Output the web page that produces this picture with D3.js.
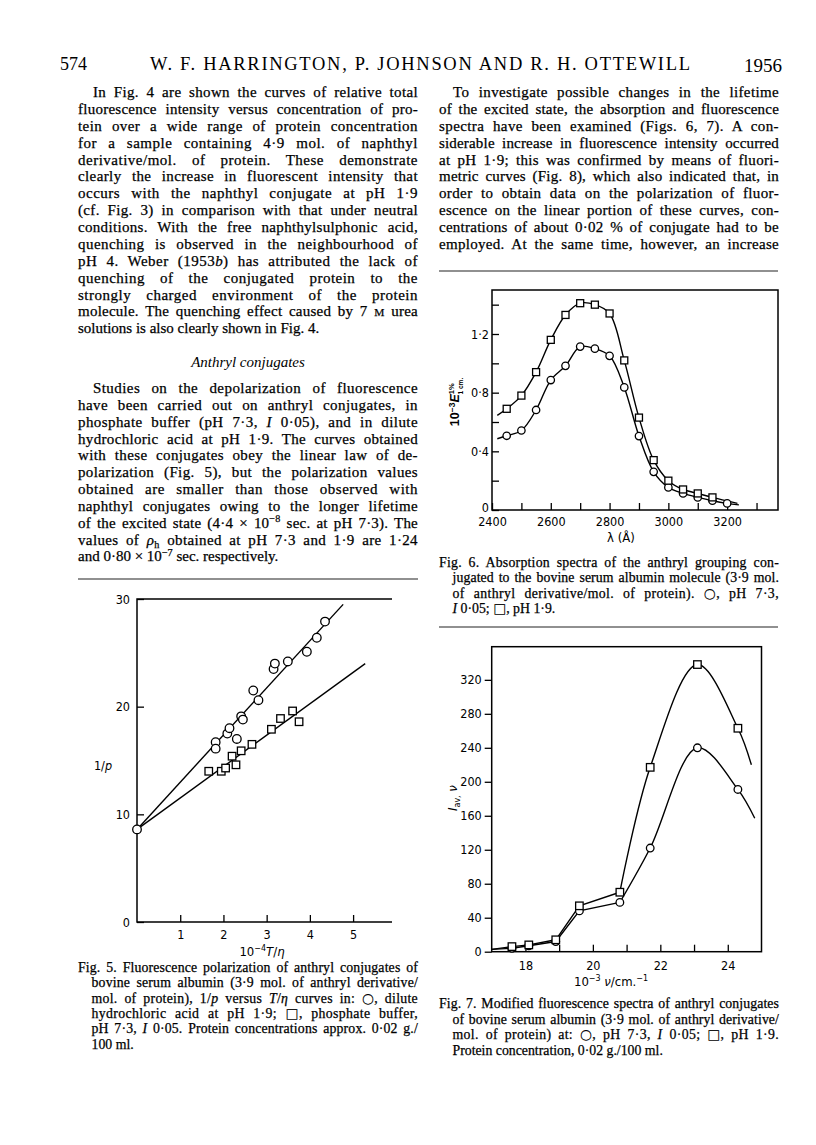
<!DOCTYPE html>
<html>
<head>
<meta charset="utf-8">
<script src="https://cdn.jsdelivr.net/npm/d3@7"></script>
<style>
  body { margin: 0; background: #fff; }
  svg { display: block; }
</style>
</head>
<body>
<svg id="page" width="816" height="1145"></svg>
<script>
// ---- Fig. 5: 1/p versus 10^-4 T/eta ----
const f5XTicks = [1, 2, 3, 4, 5];
const f5YTicks = [0, 10, 20, 30];
const f5Circles = [[0, 8.6], [1.82, 16.7], [1.82, 16.1], [2.09, 17.5], [2.14, 18.0], [2.31, 17.0],
  [2.41, 19.1], [2.45, 18.8], [2.69, 21.5], [2.81, 20.6], [3.16, 23.5], [3.19, 24.0],
  [3.49, 24.2], [3.93, 25.1], [4.16, 26.4], [4.35, 27.9]];
const f5Squares = [[1.66, 14.0], [1.95, 14.0], [2.05, 14.3], [2.20, 15.4], [2.29, 14.6],
  [2.41, 15.9], [2.66, 16.5], [3.11, 17.9], [3.32, 18.9], [3.60, 19.6], [3.75, 18.6]];
const f5CircleFit = [[0, 8.6], [4.77, 29.5]];
const f5SquareFit = [[0, 8.6], [5.28, 24.0]];

// ---- Fig. 6: absorption spectra ----
const f6XTicks = [2400, 2500, 2600, 2700, 2800, 2900, 3000, 3100, 3200, 3300];
const f6XLabels = [2400, 2600, 2800, 3000, 3200];
const f6YTicks = [0, 0.2, 0.4, 0.6, 0.8, 1.0, 1.2, 1.4];
const f6YLabels = [0, 0.4, 0.8, 1.2];
const f6Squares = [[2450, 0.69], [2500, 0.78], [2550, 0.94], [2600, 1.16], [2650, 1.33],
  [2700, 1.41], [2750, 1.40], [2800, 1.34], [2850, 1.02], [2900, 0.63], [2950, 0.34],
  [3000, 0.20], [3050, 0.14], [3100, 0.113], [3150, 0.086]];
const f6Circles = [[2450, 0.506], [2500, 0.542], [2550, 0.682], [2600, 0.886], [2650, 0.983],
  [2700, 1.114], [2750, 1.10], [2800, 1.051], [2850, 0.836], [2900, 0.504], [2950, 0.26],
  [3000, 0.154], [3050, 0.113], [3100, 0.086], [3150, 0.063], [3200, 0.045]];
const f6SquareEnds = [[2418, 0.645], [3235, 0.045]];
const f6CircleEnds = [[2418, 0.486], [3240, 0.035]];

// ---- Fig. 7: modified fluorescence spectra ----
const f7XTicks = [18, 19, 20, 21, 22, 23, 24];
const f7XLabels = [18, 20, 22, 24];
const f7YTicks = [0, 40, 80, 120, 160, 200, 240, 280, 320];
const f7Squares = [[17.6, 6], [18.1, 8], [18.9, 14], [19.6, 54], [20.8, 70], [21.7, 217],
  [23.1, 338], [24.3, 263]];
const f7Circles = [[17.6, 4], [18.1, 7], [18.9, 12], [19.6, 48], [20.8, 58], [21.7, 122],
  [23.1, 240], [24.3, 191]];
const f7Start = [17.0, 2.7];
const f7SquareEnd = [24.7, 220];
const f7CircleEnd = [24.8, 157];
const f7Knee = 20.8; // straight segments below, smooth curve above

// ---- page text ----
const leftPara1 = [
  "In Fig. 4 are shown the curves of relative total",
  "fluorescence intensity versus concentration of pro-",
  "tein over a wide range of protein concentration",
  "for a sample containing 4·9 mol. of naphthyl",
  "derivative/mol. of protein. These demonstrate",
  "clearly the increase in fluorescent intensity that",
  "occurs with the naphthyl conjugate at pH 1·9",
  "(cf. Fig. 3) in comparison with that under neutral",
  "conditions. With the free naphthylsulphonic acid,",
  "quenching is observed in the neighbourhood of",
  "pH 4. Weber (1953*b*) has attributed the lack of",
  "quenching of the conjugated protein to the",
  "strongly charged environment of the protein",
  "molecule. The quenching effect caused by 7 ~M~ urea",
  "solutions is also clearly shown in Fig. 4."
];
const leftPara2 = [
  "Studies on the depolarization of fluorescence",
  "have been carried out on anthryl conjugates, in",
  "phosphate buffer (pH 7·3, *I* 0·05), and in dilute",
  "hydrochloric acid at pH 1·9. The curves obtained",
  "with these conjugates obey the linear law of de-",
  "polarization (Fig. 5), but the polarization values",
  "obtained are smaller than those observed with",
  "naphthyl conjugates owing to the longer lifetime",
  "of the excited state (4·4 × 10^−8^ sec. at pH 7·3). The",
  "values of *ρ*_h_ obtained at pH 7·3 and 1·9 are 1·24",
  "and 0·80 × 10^−7^ sec. respectively."
];
const rightPara = [
  "To investigate possible changes in the lifetime",
  "of the excited state, the absorption and fluorescence",
  "spectra have been examined (Figs. 6, 7). A con-",
  "siderable increase in fluorescence intensity occurred",
  "at pH 1·9; this was confirmed by means of fluori-",
  "metric curves (Fig. 8), which also indicated that, in",
  "order to obtain data on the polarization of fluor-",
  "escence on the linear portion of these curves, con-",
  "centrations of about 0·02 % of conjugate had to be",
  "employed. At the same time, however, an increase"
];
const cap5 = [
  "Fig. 5. Fluorescence polarization of anthryl conjugates of",
  "bovine serum albumin (3·9 mol. of anthryl derivative/",
  "mol. of protein), 1/*p* versus *T*/*η* curves in: #○#, dilute",
  "hydrochloric acid at pH 1·9; #□#, phosphate buffer,",
  "pH 7·3, *I* 0·05. Protein concentrations approx. 0·02 g./",
  "100 ml."
];
const cap6 = [
  "Fig. 6. Absorption spectra of the anthryl grouping con-",
  "jugated to the bovine serum albumin molecule (3·9 mol.",
  "of anthryl derivative/mol. of protein). #○#, pH 7·3,",
  "*I* 0·05; #□#, pH 1·9."
];
const cap7 = [
  "Fig. 7. Modified fluorescence spectra of anthryl conjugates",
  "of bovine serum albumin (3·9 mol. of anthryl derivative/",
  "mol. of protein) at: #○#, pH 7·3, *I* 0·05; #□#, pH 1·9.",
  "Protein concentration, 0·02 g./100 ml."
];

const serif = "'Liberation Serif', 'Times New Roman', serif";
const sans = "'Liberation Sans', Arial, sans-serif";
const narrow = "'Liberation Sans Narrow', 'DejaVu Sans Condensed', 'Liberation Sans', sans-serif";
const ink = "#000";

const svg = d3.select("#page");
svg.append("rect").attr("width", 816).attr("height", 1145).attr("fill", "#fff");

// tiny markup: *italic*  ^sup^  _sub_  ~small caps~  #symbol#
function parse(str) {
  const flags = { "*": "it", "^": "sup", "_": "sub", "~": "sm", "#": "sym" };
  const out = [];
  let st = { it: false, sup: false, sub: false, sm: false, sym: false };
  let buf = "";
  for (const ch of str) {
    if (flags[ch]) {
      if (buf) out.push({ t: buf, ...st });
      buf = "";
      st = { ...st, [flags[ch]]: !st[flags[ch]] };
    } else buf += ch;
  }
  if (buf) out.push({ t: buf, ...st });
  return out;
}

function richText(g, str, size, family) {
  const t = g.append("text").attr("font-size", size).attr("font-family", family).attr("fill", ink);
  let shift = 0;
  parse(str).forEach(s => {
    const ts = t.append("tspan").text(s.t);
    const target = s.sup ? -0.36 * size : s.sub ? 0.25 * size : 0;
    if (target !== shift) { ts.attr("dy", target - shift); shift = target; }
    if (s.it) ts.attr("font-style", "italic");
    if (s.sup || s.sub) ts.attr("font-size", size * 0.68);
    else if (s.sm) ts.attr("font-size", size * 0.76);
    else if (s.sym) ts.attr("font-family", "'DejaVu Sans', sans-serif").attr("stroke-width", 0.1);
  });
  return t;
}

// justified lines: extra room goes partly into letter spacing, the rest into word gaps
function block(lines, x0, y0, lead, width, size, indentOf, justifyLast) {
  lines.forEach((ln, i) => {
    const ind = indentOf(i);
    const t = richText(svg, ln, size, serif).attr("x", x0 + ind).attr("y", y0 + i * lead)
      .attr("stroke", ink).attr("stroke-width", 0.25);
    const len = t.node().getComputedTextLength();
    const chars = t.node().getNumberOfChars();
    const gaps = (ln.match(/ /g) || []).length;
    const extra = width - ind - len;
    if (i < lines.length - 1 || justifyLast) {
      if (extra < 0 || !gaps) {
        t.style("letter-spacing", (extra / chars) + "px");
      } else {
        const ls = Math.min(0.5, 0.35 * extra / chars);
        t.style("letter-spacing", ls + "px");
        t.style("word-spacing", ((extra - ls * chars) / gaps) + "px");
      }
    } else if (extra < 0) {
      t.style("letter-spacing", (extra / chars) + "px");
    }
  });
}

function rule(x1, x2, y) {
  svg.append("line").attr("x1", x1).attr("x2", x2).attr("y1", y).attr("y2", y)
    .attr("stroke", "#222").attr("stroke-width", 1.2);
}

// header
svg.append("text").attr("x", 60).attr("y", 70).attr("font-family", serif).attr("font-size", 18)
  .attr("fill", ink).text("574");
svg.append("text").attr("x", 150).attr("y", 70).attr("font-family", serif).attr("font-size", 18.5)
  .attr("fill", ink).attr("textLength", 540).attr("lengthAdjust", "spacing")
  .text("W. F. HARRINGTON, P. JOHNSON AND R. H. OTTEWILL");
svg.append("text").attr("x", 782).attr("y", 72).attr("text-anchor", "end").attr("font-family", serif)
  .attr("font-size", 19).attr("fill", ink).text("1956");

// body text
const body = 15;
block(leftPara1, 78, 97, 16.88, 340, body, i => (i === 0 ? 15 : 0), false);
svg.append("text").attr("x", 248).attr("y", 367).attr("text-anchor", "middle")
  .attr("font-family", serif).attr("font-style", "italic").attr("font-size", body)
  .attr("fill", ink).text("Anthryl conjugates");
block(leftPara2, 78, 393, 16.84, 340, body, i => (i === 0 ? 15 : 0), false);
rule(78, 418, 579);

block(rightPara, 439, 97, 16.88, 340, body, i => (i === 0 ? 14 : 0), true);
rule(439, 778, 271);

// captions
const capSize = 13.8;
const hang = i => (i === 0 ? 0 : 13.5);
block(cap6, 439, 567, 15.3, 340, capSize, hang, false);
rule(439, 778, 627);
block(cap5, 78, 972, 15.35, 340, capSize, hang, false);
block(cap7, 439, 1008, 15.5, 340, capSize, hang, false);

// ---- chart helpers ----
const dot = d => String(d).replace(".", "·");

function styleAxis(g) {
  g.select(".domain").remove();
  g.selectAll("line").attr("stroke", "#000").attr("stroke-width", 1.3);
  g.selectAll("text").attr("font-family", narrow).attr("font-size", 12.5).attr("fill", "#000");
}

function drawCircles(g, data, x, y, r) {
  g.append("g").selectAll("circle").data(data).join("circle")
    .attr("cx", d => x(d[0])).attr("cy", d => y(d[1])).attr("r", r)
    .attr("fill", "#fff").attr("stroke", "#000").attr("stroke-width", 1.3);
}

function drawSquares(g, data, x, y, s) {
  g.append("g").selectAll("rect").data(data).join("rect")
    .attr("x", d => x(d[0]) - s / 2).attr("y", d => y(d[1]) - s / 2)
    .attr("width", s).attr("height", s)
    .attr("fill", "#fff").attr("stroke", "#000").attr("stroke-width", 1.3);
}

function drawLine(g, pts, x, y, curve) {
  g.append("path").datum(pts)
    .attr("d", d3.line().x(d => x(d[0])).y(d => y(d[1])).curve(curve))
    .attr("fill", "none").attr("stroke", "#000").attr("stroke-width", 1.4);
}

// ---- Fig. 5 ----
{
  const x = d3.scaleLinear().domain([0, 5.9]).range([137, 392]);
  const y = d3.scaleLinear().domain([0, 30]).range([922, 599]);
  const g = svg.append("g");

  g.append("g").attr("transform", `translate(0,${y(0)})`)
    .call(d3.axisBottom(x).tickValues(f5XTicks).tickSize(-7).tickSizeOuter(0).tickPadding(8)
      .tickFormat(d3.format("d")))
    .call(styleAxis);
  g.append("g").attr("transform", `translate(${x(0)},0)`)
    .call(d3.axisLeft(y).tickValues(f5YTicks).tickSize(-7).tickSizeOuter(0).tickPadding(7)
      .tickFormat(d3.format("d")))
    .call(styleAxis);

  // open frame: top, left, bottom
  g.append("path")
    .attr("d", `M${x(5.9)},${y(30)}H${x(0)}V${y(0)}H${x(5.9)}`)
    .attr("fill", "none").attr("stroke", "#000").attr("stroke-width", 1.5);

  drawLine(g, f5CircleFit, x, y, d3.curveLinear);
  drawLine(g, f5SquareFit, x, y, d3.curveLinear);
  drawSquares(g, f5Squares, x, y, 7.5);
  drawCircles(g, f5Circles, x, y, 4.3);

  richText(g, "1/*p*", 12.5, narrow).attr("x", 103).attr("y", 770).attr("text-anchor", "middle");
  richText(g, "10^−4^*T*/*η*", 13, narrow).attr("x", 262).attr("y", 956).attr("text-anchor", "middle");
}

// ---- Fig. 6 ----
{
  const x = d3.scaleLinear().domain([2400, 3373]).range([492, 778]);
  const y = d3.scaleLinear().domain([0, 1.5]).range([510, 290]);
  const g = svg.append("g");

  g.append("g").attr("transform", `translate(0,${y(0)})`)
    .call(d3.axisBottom(x).tickValues(f6XTicks).tickSize(-7).tickSizeOuter(0).tickPadding(7)
      .tickFormat(d => (f6XLabels.includes(d) ? d : "")))
    .call(styleAxis);
  g.append("g").attr("transform", `translate(${x(2400)},0)`)
    .call(d3.axisLeft(y).tickValues(f6YTicks).tickSize(-7).tickSizeOuter(0).tickPadding(3)
      .tickFormat(d => (f6YLabels.includes(d) ? dot(d) : "")))
    .call(styleAxis)
    .call(a => a.selectAll(".tick text").filter(d => d === 0).attr("dy", "0.1em"));

  g.append("rect")
    .attr("x", x(2400)).attr("y", y(1.5)).attr("width", x(3373) - x(2400)).attr("height", y(0) - y(1.5))
    .attr("fill", "none").attr("stroke", "#000").attr("stroke-width", 1.5);

  drawLine(g, [f6SquareEnds[0], ...f6Squares, f6SquareEnds[1]], x, y, d3.curveCatmullRom);
  drawLine(g, [f6CircleEnds[0], ...f6Circles, f6CircleEnds[1]], x, y, d3.curveCatmullRom);
  drawCircles(g, f6Circles, x, y, 3.7);
  drawSquares(g, f6Squares, x, y, 7);

  // rotated y label 10^-3 E (1%, 1 cm.)
  const lab = g.append("text").attr("transform", "translate(459,402) rotate(-90)")
    .attr("text-anchor", "middle").attr("font-family", sans).attr("font-size", 12.5)
    .attr("font-weight", "bold").attr("fill", "#000");
  lab.append("tspan").text("10");
  lab.append("tspan").attr("dy", -4.5).attr("font-size", 8.5).text("−3");
  lab.append("tspan").attr("dy", 4.5).attr("font-style", "italic").text("E");
  lab.append("tspan").attr("dy", -5).attr("font-size", 7.5).text("1%");
  lab.append("tspan").attr("dx", -11).attr("dy", 9).attr("font-size", 6.5).text("1 cm.");

  richText(g, "λ (Å)", 13, narrow).attr("x", 621).attr("y", 542).attr("text-anchor", "middle");
}

// ---- Fig. 7 ----
{
  const x = d3.scaleLinear().domain([17, 25]).range([491.7, 761.5]);
  const y = d3.scaleLinear().domain([0, 359]).range([951.7, 646.7]);
  const g = svg.append("g");

  g.append("g").attr("transform", `translate(0,${y(0)})`)
    .call(d3.axisBottom(x).tickValues(f7XTicks).tickSize(-7).tickSizeOuter(0).tickPadding(9)
      .tickFormat(d => (f7XLabels.includes(d) ? d : "")))
    .call(styleAxis);
  g.append("g").attr("transform", `translate(${x(17)},0)`)
    .call(d3.axisLeft(y).tickValues(f7YTicks).tickSize(7).tickSizeOuter(0).tickPadding(3))
    .call(styleAxis);

  g.append("rect")
    .attr("x", x(17)).attr("y", y(359)).attr("width", x(25) - x(17)).attr("height", y(0) - y(359))
    .attr("fill", "none").attr("stroke", "#000").attr("stroke-width", 1.5);

  [[f7Squares, f7SquareEnd], [f7Circles, f7CircleEnd]].forEach(([pts, end]) => {
    drawLine(g, [f7Start, ...pts.filter(d => d[0] <= f7Knee)], x, y, d3.curveLinear);
    drawLine(g, [...pts.filter(d => d[0] >= f7Knee), end], x, y, d3.curveCatmullRom);
  });
  drawCircles(g, f7Circles, x, y, 3.8);
  drawSquares(g, f7Squares, x, y, 7.5);

  richText(g, "*I*_av,_ *ν*", 13, narrow)
    .attr("transform", "translate(457,798) rotate(-90)").attr("text-anchor", "middle");
  richText(g, "10^−3^ *ν*/cm.^−1^", 13, narrow).attr("x", 611).attr("y", 986).attr("text-anchor", "middle");
}
</script>
</body>
</html>
